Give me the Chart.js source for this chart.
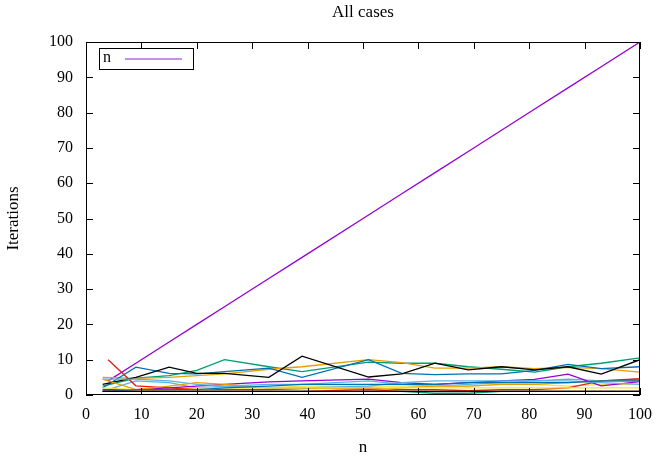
<!DOCTYPE html>
<html>
<head>
<meta charset="utf-8">
<script src="https://cdn.jsdelivr.net/npm/chart.js@4"></script>
<style>
    html, body { margin: 0; padding: 0; background: #fff; }
    #chart { display: block; }
</style>
</head>
<body>
<canvas id="chart" width="662" height="459"></canvas>
<script>
// n values where the runs were sampled
const nValues = [3, 9, 15, 20, 25, 33, 39, 51, 57, 63, 69, 75, 81, 87, 93, 100];

// iterations per case
const nLine    = [4, 9, 15, 20, 25, 33, 39, 51, 57, 63, 69, 75, 81, 87, 93, 100];
const green1   = [2.5, 4.8, 5.5, 7, 10, 8, 6.6, 9.3, 9, 9, 8, 7.3, 6.5, 8, 9, 10.5];
const lblue1   = [1, 4, 3.5, 2, 2.5, 3, 3, 4, 3, 2.5, 3, 3.5, 4, 4.5, 4, 4.5];
const orange1  = [5, 4.7, 5, 5.5, 6, 7.3, 8, 10, 9.2, 7.6, 7.6, 8, 7.5, 7.8, 7.5, 6.5];
const yellow1  = [1, 1, 1.5, 2, 2, 2, 2.5, 2.5, 2.5, 2.5, 2.5, 3, 3, 2.5, 3, 3];
const blue1    = [2, 7.9, 6.1, 6, 6.6, 7.6, 5, 10, 6.1, 5.8, 6, 6, 7, 8.7, 7.5, 8];
const red1     = [10, 2.6, 2, 1.5, 1.5, 1.5, 1.8, 2, 1.5, 1.5, 1.2, 1.5, 1.5, 2, 4, 4.6];
const black1   = [3, 5, 7.9, 6.1, 6.1, 5, 11, 5.1, 6, 9, 7.1, 8, 7.1, 8, 5.9, 10];
const purple2  = [1.5, 1.5, 2, 2.5, 3, 3.7, 4, 4.5, 3.5, 3, 3.5, 4, 4.4, 5.9, 2.6, 3.8];
const green2   = [1, 1, 1, 1, 1, 1, 1, 1, 1, 0.5, 0.5, 1, 1, 1, 1, 1];
const lblue2   = [4.5, 4.5, 4, 3, 2.5, 2, 2, 2.5, 3.5, 4, 4, 4, 4, 4, 3.5, 3];
const orange2  = [4.5, 1.5, 2.5, 3.5, 3, 2, 2, 1.5, 2, 2.5, 2.5, 3, 3, 3.5, 4, 4];
const yellow2  = [2, 1.5, 1.5, 1.5, 2, 2, 2, 2, 2, 2, 2, 2, 2, 2, 2, 2];
const blue2    = [1, 1.5, 1.5, 1.5, 2, 2.5, 3, 3, 3, 3, 3.5, 3.5, 3.5, 3.5, 4, 4];
const red2     = [1, 1, 1, 1, 1, 1, 1, 1.5, 1, 1, 1, 1, 1, 1, 1, 1];
const black2   = [1, 1, 1, 1, 1, 1, 1, 1, 1, 1, 1, 1, 1, 1, 1, 1];

const xTicks = [0, 10, 20, 30, 40, 50, 60, 70, 80, 90, 100];
const yTicks = [0, 10, 20, 30, 40, 50, 60, 70, 80, 90, 100];

const series = [
    { label: 'n', values: nLine, color: '#9400d3' },
    { values: green1, color: '#009e73' },
    { values: lblue1, color: '#56b4e9' },
    { values: orange1, color: '#e69f00' },
    { values: yellow1, color: '#f0e442' },
    { values: blue1, color: '#0072b2' },
    { values: red1, color: '#e51e10' },
    { values: black1, color: '#000000' },
    { values: purple2, color: '#9400d3' },
    { values: green2, color: '#009e73' },
    { values: lblue2, color: '#56b4e9' },
    { values: orange2, color: '#e69f00' },
    { values: yellow2, color: '#f0e442' },
    { values: blue2, color: '#0072b2' },
    { values: red2, color: '#e51e10' },
    { values: black2, color: '#000000' }
];

const FONT = '"Liberation Serif", "DejaVu Serif", serif';

// gnuplot style frame, inward ticks, legend and titles
const gnuplotFrame = {
    id: 'gnuplotFrame',
    afterDraw(chart) {
        const ctx = chart.ctx;
        const a = chart.chartArea;
        const xs = chart.scales.x;
        const ys = chart.scales.y;
        const tl = 7;

        ctx.save();
        ctx.strokeStyle = '#000';
        ctx.lineWidth = 1;
        ctx.strokeRect(a.left + 0.5, a.top + 0.5, a.right - a.left - 1, a.bottom - a.top - 1);

        ctx.beginPath();
        xTicks.forEach(v => {
            const px = Math.round(xs.getPixelForValue(v)) + 0.5;
            ctx.moveTo(px, a.bottom); ctx.lineTo(px, a.bottom - tl);
            ctx.moveTo(px, a.top); ctx.lineTo(px, a.top + tl);
        });
        yTicks.forEach(v => {
            const py = Math.round(ys.getPixelForValue(v)) + 0.5;
            ctx.moveTo(a.left, py); ctx.lineTo(a.left + tl, py);
            ctx.moveTo(a.right, py); ctx.lineTo(a.right - tl, py);
        });
        ctx.stroke();

        // legend box
        ctx.fillStyle = '#fff';
        ctx.fillRect(100, 48, 94, 22);
        ctx.strokeRect(99.5, 48.5, 94, 21);
        ctx.fillStyle = '#000';
        ctx.font = '16px ' + FONT;
        ctx.textAlign = 'left';
        ctx.textBaseline = 'middle';
        ctx.fillText(chart.data.datasets[0].label, 103, 58);
        ctx.strokeStyle = '#b36ae0';
        ctx.lineWidth = 1.5;
        ctx.beginPath();
        ctx.moveTo(125, 59); ctx.lineTo(182, 59);
        ctx.stroke();

        // titles
        ctx.fillStyle = '#000';
        ctx.textAlign = 'center';
        ctx.font = '17px ' + FONT;
        ctx.fillText('All cases', (a.left + a.right) / 2, 13);
        ctx.fillText('n', (a.left + a.right) / 2, 448);
        ctx.translate(14, (a.top + a.bottom) / 2);
        ctx.rotate(-Math.PI / 2);
        ctx.fillText('Iterations', 0, 0);
        ctx.restore();
    }
};

const datasets = series.map((s, i) => ({
    label: s.label || '',
    data: nValues.map((n, k) => ({ x: n, y: s.values[k] })),
    borderColor: s.color,
    backgroundColor: s.color,
    borderWidth: 1.3,
    pointRadius: 0,
    tension: 0,
    fill: false,
    order: -i
}));

// the n line and the first red run start at n = 4
datasets[0].data[0].x = 4;
datasets[6].data[0].x = 4;

new Chart(document.getElementById('chart').getContext('2d'), {
    type: 'line',
    data: { datasets: datasets },
    options: {
        responsive: false,
        animation: false,
        layout: { padding: { top: 42, right: 13, left: 0, bottom: 0 } },
        plugins: {
            legend: { display: false },
            tooltip: { enabled: false },
            title: { display: false }
        },
        scales: {
            x: {
                type: 'linear',
                min: 0,
                max: 100,
                afterBuildTicks: scale => { scale.ticks = xTicks.map(v => ({ value: v })); },
                afterFit: scale => { scale.height = 64; },
                grid: { display: false, drawTicks: false },
                border: { display: false },
                ticks: { color: '#000', padding: 10, maxRotation: 0, font: { family: FONT, size: 16 } }
            },
            y: {
                type: 'linear',
                min: 0,
                max: 100,
                afterBuildTicks: scale => { scale.ticks = yTicks.map(v => ({ value: v })); },
                afterFit: scale => { scale.width = 86; },
                grid: { display: false, drawTicks: false },
                border: { display: false },
                ticks: { color: '#000', padding: 13, font: { family: FONT, size: 16 } }
            }
        }
    },
    plugins: [gnuplotFrame]
});
</script>
</body>
</html>
